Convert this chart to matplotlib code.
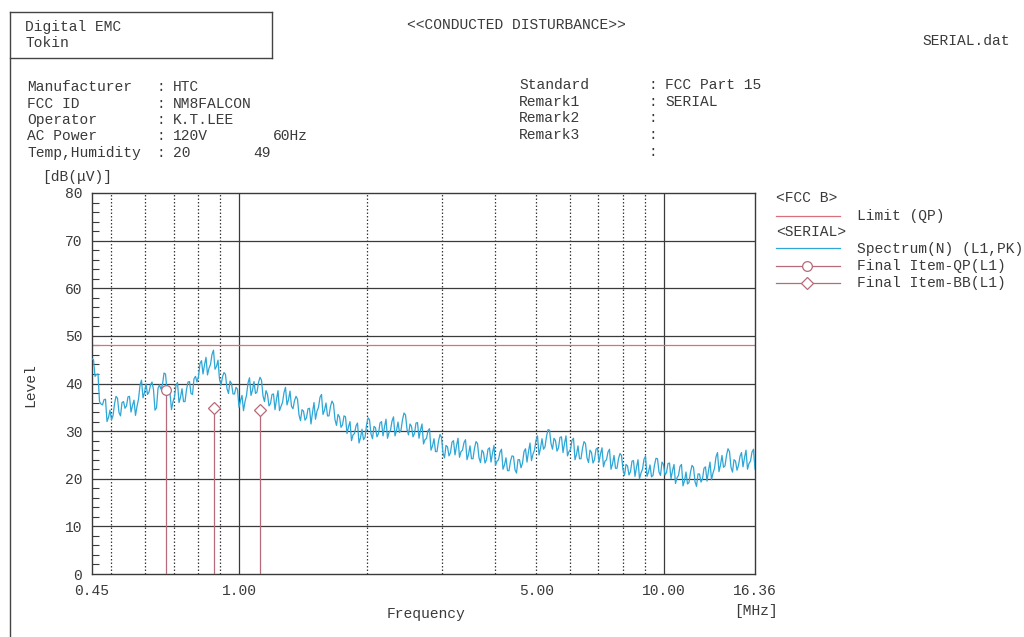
import matplotlib
matplotlib.use('Agg')
import matplotlib.pyplot as plt
from matplotlib.lines import Line2D
import numpy as np

W, H = 1024, 637
MONO = 'Liberation Mono'

# --- data -------------------------------------------------------------
f_start, f_stop = 0.45, 16.36
limit_qp = 48.0

# spectrum (L1, PK) levels in dB(uV).
# even sweep points ...
spec_even = [
    45.2, 41.5, 42.0, 35.7, 36.6, 32.0, 34.4, 33.2, 37.3, 33.9, 36.0, 34.8,
    37.2, 34.0, 36.5, 35.2, 39.6, 37.0, 39.9, 38.2, 40.3, 34.4, 39.0, 38.8,
    42.2, 38.5, 38.0, 36.2, 39.6, 36.0, 38.9, 36.2, 40.3, 37.9, 41.0, 40.3,
    44.2, 42.0, 45.5, 43.2, 46.1, 43.0, 44.9, 39.7, 42.3, 38.9, 40.5, 37.8,
    39.2, 35.0, 37.5, 36.2, 40.1, 37.5, 40.4, 38.2, 41.3, 37.4, 38.5, 35.3,
    37.7, 34.5, 38.5, 35.2, 38.1, 35.5, 38.4, 34.7, 37.3, 33.4, 34.5, 32.3,
    34.7, 31.5, 36.0, 34.2, 37.1, 33.5, 35.9, 33.2, 36.3, 32.4, 33.5, 30.8,
    33.2, 29.5, 32.0, 29.2, 31.1, 27.5, 30.4, 28.7, 32.8, 29.4, 31.0, 28.8,
    31.7, 29.0, 32.5, 29.7, 32.1, 29.0, 31.9, 30.2, 33.8, 30.4, 31.5, 28.8,
    31.7, 28.5, 31.5, 28.2, 30.1, 26.0, 28.4, 25.7, 29.3, 25.4, 27.0, 24.8,
    27.7, 25.0, 28.5, 25.7, 27.6, 24.0, 26.9, 24.2, 27.8, 24.4, 26.0, 23.3,
    26.2, 23.5, 27.0, 23.7, 25.6, 22.0, 24.4, 21.7, 24.8, 21.9, 24.0, 22.3,
    25.7, 23.5, 27.5, 25.2, 28.1, 25.0, 28.4, 26.7, 30.3, 27.4, 28.5, 25.8,
    28.7, 25.5, 29.0, 25.7, 28.1, 24.0, 26.9, 24.2, 27.8, 24.4, 26.0, 23.3,
    26.2, 23.5, 26.5, 23.7, 25.6, 22.0, 24.9, 22.2, 25.3, 21.9, 23.0, 20.8,
    23.7, 20.5, 24.0, 21.2, 24.1, 20.5, 22.9, 20.7, 24.3, 21.4, 23.5, 20.8,
    23.2, 20.0, 23.0, 20.2, 22.6, 18.5, 21.4, 19.2, 22.8, 19.4, 21.0, 19.3,
    22.2, 19.5, 23.5, 21.2, 24.6, 21.5, 24.9, 22.7, 26.3, 22.4, 24.0, 21.8,
    24.7, 22.5, 26.0, 23.2, 25.6, 22.0,
]
# ... and the odd sweep points in between
spec_odd = [
    45.0, 41.9, 36.2, 35.5, 36.7, 32.9, 32.4, 35.7, 36.9, 33.2, 36.2, 35.3,
    37.3, 35.4, 33.3, 36.7, 40.7, 38.1, 37.7, 39.7, 38.7, 34.9, 39.7, 39.8,
    42.0, 38.4, 34.5, 37.2, 40.2, 37.1, 36.2, 38.7, 40.4, 37.7, 41.5, 41.5,
    44.8, 43.9, 41.8, 44.0, 47.0, 43.6, 40.9, 41.4, 41.9, 37.9, 40.0, 37.8,
    38.8, 36.4, 34.3, 37.5, 41.2, 38.6, 37.9, 40.2, 40.7, 36.2, 37.7, 35.8,
    37.8, 36.7, 34.3, 36.0, 39.2, 36.6, 35.2, 36.4, 36.7, 32.2, 34.2, 32.8,
    34.8, 33.9, 32.5, 35.0, 37.7, 34.4, 33.2, 35.2, 35.7, 31.2, 33.0, 31.3,
    33.0, 30.9, 28.0, 29.5, 31.7, 28.6, 28.2, 31.2, 32.4, 28.4, 30.7, 29.5,
    32.0, 30.9, 28.5, 30.2, 33.0, 30.1, 29.7, 32.4, 33.4, 29.2, 31.0, 29.5,
    31.8, 30.2, 27.3, 28.5, 30.5, 26.9, 25.7, 27.9, 28.7, 24.4, 26.7, 25.5,
    28.0, 26.9, 24.5, 26.0, 28.2, 25.1, 24.2, 26.4, 27.4, 23.4, 25.5, 24.0,
    26.5, 25.4, 22.8, 24.0, 26.2, 22.9, 21.7, 23.7, 24.7, 21.2, 24.0, 23.3,
    26.3, 25.7, 23.8, 26.0, 29.0, 26.4, 26.2, 28.9, 30.2, 26.2, 28.0, 26.5,
    28.8, 27.4, 24.8, 26.2, 28.5, 25.1, 24.2, 26.4, 27.4, 23.4, 25.5, 24.0,
    26.5, 25.2, 22.5, 24.0, 26.2, 23.1, 22.2, 24.2, 24.9, 20.7, 22.7, 21.5,
    23.8, 22.4, 20.0, 22.0, 24.7, 21.4, 20.4, 22.9, 24.2, 20.7, 23.0, 21.3,
    23.3, 21.7, 19.0, 20.7, 23.0, 19.6, 18.9, 21.4, 22.4, 18.4, 21.0, 20.0,
    22.5, 21.7, 19.8, 22.2, 25.5, 22.9, 22.4, 24.9, 25.7, 21.4, 23.7, 22.8,
    25.5, 24.4, 22.0, 23.7, 26.2,
]

qp_freq = [0.672]
qp_level = [38.6]
bb_freq = [0.870, 1.118]
bb_level = [34.9, 34.5]

xtick_vals = [0.45, 1.00, 5.00, 10.00, 16.36]
xtick_labels = ['0.45', '1.00', '5.00', '10.00', '16.36']
dotted_freqs = [0.5, 0.6, 0.7, 0.8, 0.9, 2, 3, 4, 5, 6, 7, 8, 9]
solid_freqs = [1, 10]

info_left = [('Manufacturer', 'HTC', ''), ('FCC ID', 'NM8FALCON', ''),
             ('Operator', 'K.T.LEE', ''), ('AC Power', '120V', '60Hz'),
             ('Temp,Humidity', '20', '49')]
info_right = [('Standard', 'FCC Part 15'), ('Remark1', 'SERIAL'),
              ('Remark2', ''), ('Remark3', ''), ('', '')]

SPEC_C = '#2ea6d6'
LIM_C = '#d9707e'
ITEM_C = '#b76a7a'
GRID_C = '#3a3a3a'
TXT_C = '#3a3a3a'

# --- figure -----------------------------------------------------------
fig = plt.figure(figsize=(W / 100, H / 100), dpi=100)
fig.patch.set_facecolor('white')


def fx(x):
    return x / W


def fy(y):
    return 1 - y / H


def ftext(x, y, s, **kw):
    kw.setdefault('fontsize', 10.5)
    kw.setdefault('va', 'center')
    fig.text(fx(x), fy(y), s, family=MONO, color=TXT_C, **kw)


ax = fig.add_axes([fx(92), fy(574), fx(755) - fx(92), fy(193) - fy(574)])
ax.set_xscale('log')
ax.set_xlim(f_start, f_stop)
ax.set_ylim(0, 80)

for y in range(10, 80, 10):
    ax.axhline(y, color=GRID_C, lw=0.9, zorder=1)
for f in solid_freqs:
    ax.axvline(f, color=GRID_C, lw=0.9, zorder=1)
for f in dotted_freqs:
    ax.axvline(f, color=GRID_C, lw=0.9, ls=(0, (1.2, 1.6)), zorder=1)

spectrum = np.empty(len(spec_even) + len(spec_odd))
spectrum[0::2] = spec_even
spectrum[1::2] = spec_odd
freqs = np.geomspace(f_start, f_stop, len(spectrum))
ax.plot(freqs, spectrum, color=SPEC_C, lw=0.9, zorder=3)
ax.plot([f_start, f_stop], [limit_qp, limit_qp], color=LIM_C, lw=0.9, zorder=2)

ax.vlines(qp_freq, 0, qp_level, color=ITEM_C, lw=0.9, zorder=4)
ax.plot(qp_freq, qp_level, ls='none', marker='o', ms=7, mfc='white',
        mec=ITEM_C, mew=0.9, zorder=5)
ax.vlines(bb_freq, 0, bb_level, color=ITEM_C, lw=0.9, zorder=4)
ax.plot(bb_freq, bb_level, ls='none', marker='D', ms=6, mfc='white',
        mec=ITEM_C, mew=0.9, zorder=5)

ax.set_xticks([])
ax.set_xticks([], minor=True)
ax.set_yticks(range(0, 81, 10))
ax.set_yticklabels([str(v) for v in range(0, 81, 10)], family=MONO,
                   fontsize=10.5, color=TXT_C)
ax.set_yticks(range(0, 81, 2), minor=True)
ax.tick_params(axis='y', which='major', direction='in', length=0, pad=7)
ax.tick_params(axis='y', which='minor', direction='in', length=5,
               color=GRID_C, width=0.8)
for s in ax.spines.values():
    s.set_color(GRID_C)
    s.set_linewidth(1.0)

for v, lab in zip(xtick_vals, xtick_labels):
    ax.text(v, -2.0, lab, family=MONO, fontsize=10.5, color=TXT_C,
            ha='center', va='top')

# --- page furniture ---------------------------------------------------
page = [((10, 10), (12, 637)), ((10, 272), (12, 12)), ((272, 272), (12, 58)),
        ((10, 272), (58, 58))]
for xs, ys in page:
    fig.add_artist(Line2D([fx(x) for x in xs], [fy(y) for y in ys],
                          color='#444444', lw=1.0))

ftext(25, 27, 'Digital EMC')
ftext(25, 43, 'Tokin')
ftext(407, 25, '<<CONDUCTED DISTURBANCE>>')
ftext(1010, 41, 'SERIAL.dat', ha='right')

for i, (k, v, extra) in enumerate(info_left):
    y = 87 + i * 16.5
    ftext(27, y, k)
    ftext(157, y, ':')
    ftext(173, y, v)
    if extra:
        ftext(273 if i == 3 else 253, y, extra)

for i, (k, v) in enumerate(info_right):
    y = 85 + i * 16.7
    ftext(519, y, k)
    ftext(649, y, ':')
    ftext(665, y, v)

ftext(42, 177, '[dB(\u03bcV)]')
ftext(30, 385, 'Level', rotation=90, ha='center')
ftext(426, 614, 'Frequency', ha='center')
ftext(756, 611, '[MHz]', ha='center')

# --- legend -----------------------------------------------------------
ftext(776, 198, '<FCC B>')
ftext(857, 216, 'Limit (QP)')
ftext(776, 232, '<SERIAL>')
ftext(857, 249, 'Spectrum(N) (L1,PK)')
ftext(857, 266, 'Final Item-QP(L1)')
ftext(857, 283, 'Final Item-BB(L1)')

legend_rows = [(216, LIM_C, None), (248, SPEC_C, None), (266, ITEM_C, 'o'),
               (283, ITEM_C, 'D')]
for y, c, m in legend_rows:
    fig.add_artist(Line2D([fx(776), fx(840)], [fy(y), fy(y)], color=c,
                          lw=0.9))
    if m:
        fig.add_artist(Line2D([fx(807)], [fy(y)], ls='none', marker=m,
                              ms=7 if m == 'o' else 6, mfc='white', mec=c,
                              mew=0.9))

fig.savefig('out.png', dpi=100, facecolor='white')
